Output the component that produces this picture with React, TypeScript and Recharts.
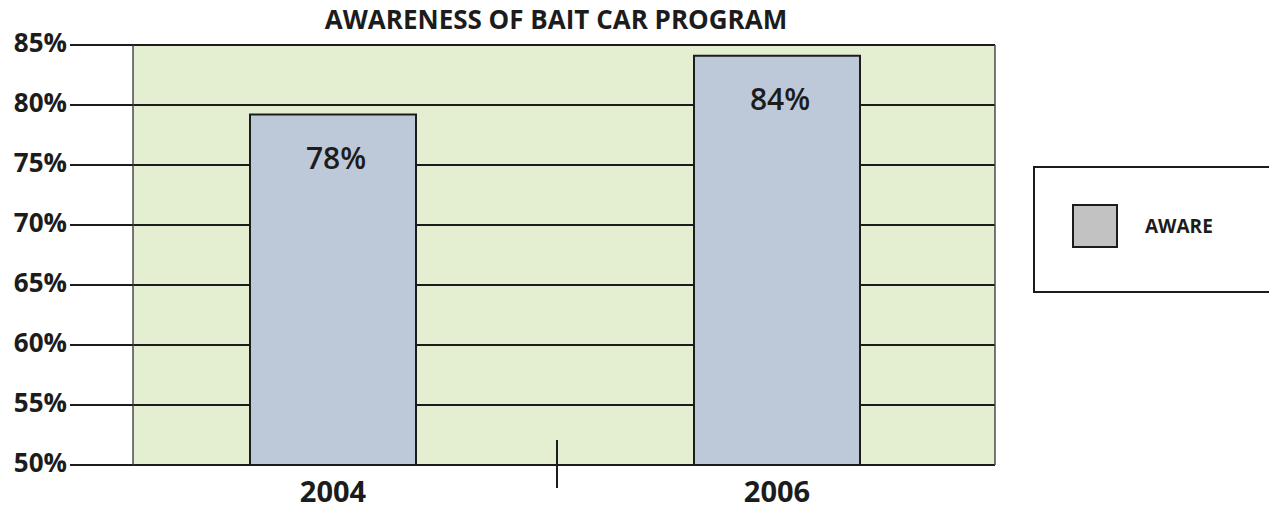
import React from 'react';
import {
  BarChart,
  Bar,
  XAxis,
  YAxis,
  CartesianGrid,
  Legend,
  LabelList,
} from 'recharts';

const years = ['2004', '2006'];
const awareValues = [79.2, 84.1];
const awareLabels = ['78%', '84%'];
const percentTicks = [50, 55, 60, 65, 70, 75, 80, 85];

const chartData = years.map((year, i) => ({
  year,
  aware: awareValues[i],
  label: awareLabels[i],
}));

const FONT = '"Open Sans", "DejaVu Sans", sans-serif';
const INK = '#1c1c1c';

function YearTick(props: any) {
  const { x, y, payload, index } = props;
  const half = payload?.offset ?? 0;
  return (
    <g>
      <text
        x={x}
        y={y + 20}
        textAnchor="middle"
        fill={INK}
        fontFamily={FONT}
        fontWeight={700}
        fontSize={29}
      >
        {payload.value}
      </text>
      {index === 0 && half > 0 ? (
        <line
          x1={x + half + 2}
          x2={x + half + 2}
          y1={y - 42}
          y2={y + 6}
          stroke={INK}
          strokeWidth={2}
        />
      ) : null}
    </g>
  );
}

function BarValue(props: any) {
  const { x, y, width, value } = props;
  return (
    <text
      x={x + width / 2 + 3}
      y={y + 54}
      textAnchor="middle"
      fill={INK}
      fontFamily={FONT}
      fontWeight={600}
      fontSize={30}
    >
      {value}
    </text>
  );
}

// legend box is absolutely placed so it reserves no room in the chart
function LegendBox(props: any) {
  const items = props.payload || [];
  return (
    <div
      style={{
        position: 'absolute',
        left: 1033,
        top: 166,
        width: 250,
        height: 127,
        border: `2px solid ${INK}`,
        background: '#fff',
        boxSizing: 'border-box',
      }}
    >
      {items.map((item: any) => (
        <div key={item.value}>
          <div
            style={{
              position: 'absolute',
              left: 37,
              top: 36,
              width: 42,
              height: 40,
              background: '#c2c2c2',
              border: `2px solid ${INK}`,
            }}
          />
          <div
            style={{
              position: 'absolute',
              left: 110,
              top: 47,
              fontFamily: FONT,
              fontWeight: 700,
              fontSize: 19,
              color: INK,
              lineHeight: '22px',
            }}
          >
            {item.value}
          </div>
        </div>
      ))}
    </div>
  );
}

export default function App() {
  return (
    <div
      style={{
        position: 'absolute',
        left: 0,
        top: 0,
        width: 1269,
        height: 510,
        overflow: 'hidden',
        background: '#fff',
      }}
    >
      <div
        style={{
          position: 'absolute',
          left: 0,
          width: 1112,
          top: 3,
          textAlign: 'center',
          fontFamily: FONT,
          fontWeight: 700,
          fontSize: 26,
          color: INK,
          lineHeight: '32px',
        }}
      >
        AWARENESS OF BAIT CAR PROGRAM
      </div>
      <BarChart
        width={1269}
        height={510}
        data={chartData}
        margin={{ top: 45, right: 274, bottom: 0, left: 0 }}
      >
        <CartesianGrid
          vertical={false}
          fill="#e4eed1"
          fillOpacity={1}
          stroke={INK}
          strokeWidth={2}
        />
        <CartesianGrid
          horizontal={false}
          verticalCoordinatesGenerator={({ offset }: any) => [
            offset.left,
            offset.left + offset.width,
          ]}
          stroke="#4a4a4a"
          strokeWidth={1.5}
        />
        <XAxis
          dataKey="year"
          height={45}
          padding={{ left: -22, right: -4 }}
          axisLine={false}
          tickLine={false}
          tickMargin={11}
          tick={<YearTick />}
        />
        <YAxis
          width={133}
          domain={[50, 85]}
          ticks={percentTicks}
          interval={0}
          axisLine={false}
          tickSize={63}
          tickMargin={3}
          tickLine={{ stroke: INK, strokeWidth: 2 }}
          tickFormatter={(v: number) => `${v}%`}
          tick={{
            fill: INK,
            fontSize: 26,
            fontWeight: 700,
            fontFamily: FONT,
            dy: -2,
          }}
        />
        <Legend
          content={<LegendBox />}
          wrapperStyle={{ position: 'absolute', left: 0, top: 0, width: 0, height: 0 }}
        />
        <Bar
          dataKey="aware"
          name="AWARE"
          barSize={166}
          fill="#bdc8d9"
          stroke={INK}
          strokeWidth={2}
          isAnimationActive={false}
        >
          <LabelList dataKey="label" content={<BarValue />} />
        </Bar>
      </BarChart>
    </div>
  );
}
